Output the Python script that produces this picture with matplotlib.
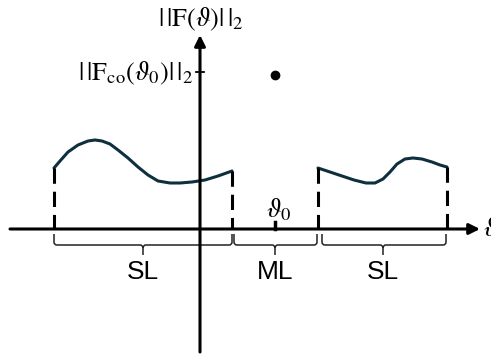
import matplotlib.pyplot as plt
from matplotlib.path import Path
from matplotlib.patches import PathPatch

# schematic coordinates: origin where the two axes cross (units ~ pixels)
left_x = [-146, -140, -132, -122, -112, -105, -98, -90, -82, -72, -62, -52, -42, -30, -20, -8, 5, 18, 32]
left_y = [61, 68, 77, 84, 88, 89, 88, 85, 79, 71, 62, 54, 48, 46, 46, 47, 49, 53, 58]
right_x = [118, 130, 142, 154, 166, 175, 183, 190, 197, 205, 213, 222, 232, 240, 247]
right_y = [61, 57, 53, 49, 46, 46, 50, 57, 65, 70, 71, 70, 67, 64, 62]

sl_left = (-146, 32)
ml = (34, 117)
sl_right = (122, 246)
theta0 = 75
peak = 154

region_labels = ["SL", "ML", "SL"]
region_centers = [-57, 75, 183]

plt.rcParams['mathtext.fontset'] = 'stix'
fig = plt.figure(figsize=(4.91, 3.56), dpi=100)
ax = fig.add_axes([0, 0, 1, 1])
ax.set_xlim(-200, 291)
ax.set_ylim(-127, 229)
ax.axis('off')

# axes with arrows
ax.annotate("", xy=(280, 0), xytext=(-190, 0),
            arrowprops=dict(arrowstyle='-|>', lw=2.2, color='black', mutation_scale=16, shrinkA=0, shrinkB=0))
ax.annotate("", xy=(0, 194), xytext=(0, -123),
            arrowprops=dict(arrowstyle='-|>', lw=2.2, color='black', mutation_scale=16, shrinkA=0, shrinkB=0))

# lobes
curve_col = '#0e2f3e'
ax.plot(left_x, left_y, color=curve_col, lw=2.2, solid_capstyle='round')
ax.plot(right_x, right_y, color=curve_col, lw=2.2, solid_capstyle='round')

# dashed edges of side lobes
for xs, ys in [(left_x[0], left_y[0]), (left_x[-1], left_y[-1]),
               (right_x[0], right_y[0]), (right_x[-1], right_y[-1])]:
    ax.plot([xs, xs], [ys, 0], color='black', lw=2.2, ls=(0, (5, 2.6)))

# main lobe peak point and ticks
ax.plot([theta0], [peak], 'o', color='black', ms=6)
ax.plot([-4, 4], [peak + 3, peak + 3], color='black', lw=1.3)
ax.plot([theta0, theta0], [0, 7], color='black', lw=2.5)


def brace(x0, x1, xm, ytop=-5, ybar=-16, ytip=-26, r=3):
    verts = [(x0, ytop), (x0, ybar + r), (x0, ybar), (x0 + r, ybar),
             (xm - r, ybar), (xm, ybar), (xm, ybar - r), (xm, ytip),
             (x1, ytop), (x1, ybar + r), (x1, ybar), (x1 - r, ybar),
             (xm + r, ybar), (xm, ybar), (xm, ybar - r)]
    codes = [Path.MOVETO, Path.LINETO, Path.CURVE3, Path.CURVE3,
             Path.LINETO, Path.CURVE3, Path.CURVE3, Path.LINETO,
             Path.MOVETO, Path.LINETO, Path.CURVE3, Path.CURVE3,
             Path.LINETO, Path.CURVE3, Path.CURVE3]
    ax.add_patch(PathPatch(Path(verts, codes), fill=False, lw=1.1, color='#222222'))


for (a, b), c in zip([sl_left, ml, sl_right], region_centers):
    brace(a, b, c)

for lab, c in zip(region_labels, region_centers):
    ax.text(c, -43, lab, ha='center', va='center', fontsize=19, family='Liberation Sans')

# math labels
ax.text(1, 210, r"$|\,|\mathrm{F}(\vartheta)|\,|_2$", ha='center', va='center', fontsize=19)
ax.text(-7, 156, r"$|\,|\mathrm{F}_{\mathrm{co}}(\vartheta_0)|\,|_2$", ha='right', va='center', fontsize=19)
ax.text(theta0 + 4, 19, r"$\vartheta_0$", ha='center', va='center', fontsize=19)
ax.text(283, 0, r"$\vartheta$", ha='left', va='center', fontsize=19)

fig.savefig("out.png", dpi=100)
